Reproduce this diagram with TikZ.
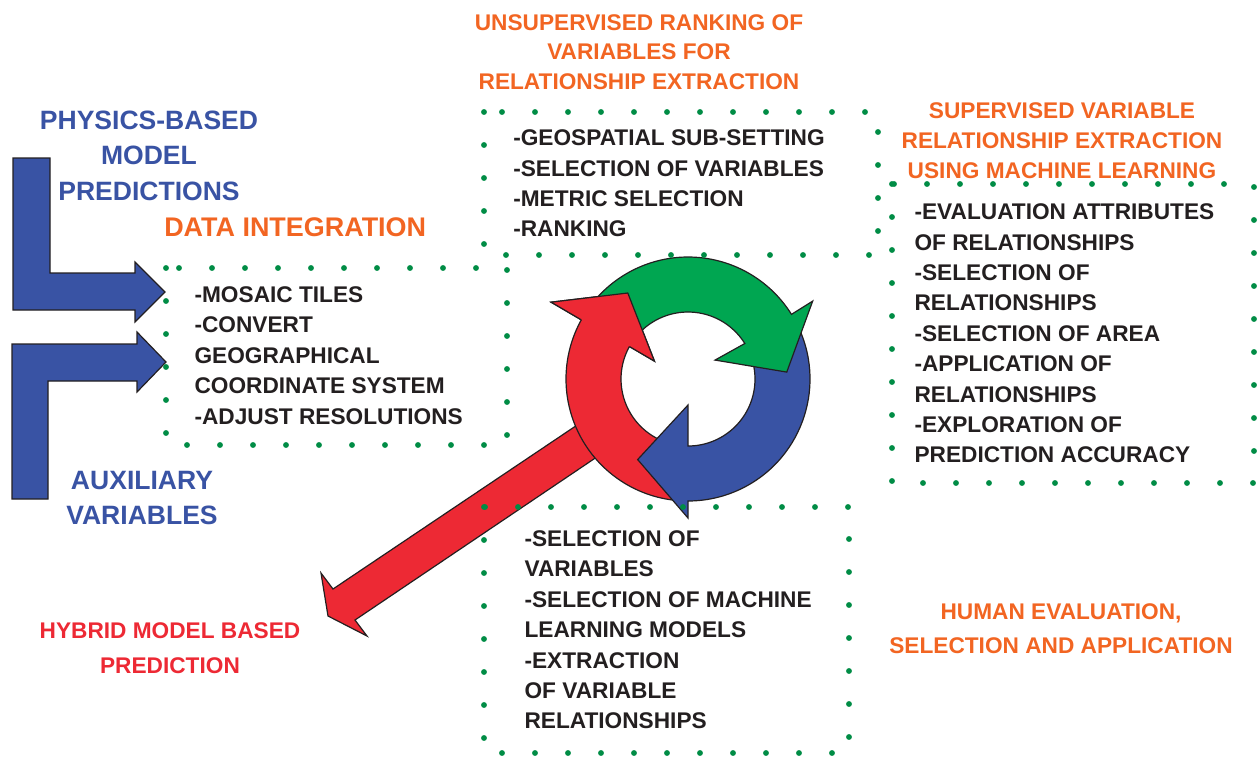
\documentclass[tikz,border=0pt]{standalone}
\usepackage{fontspec}
\setmainfont{Liberation Sans}
\usepackage{tikz}
\definecolor{dotgreen}{RGB}{0,140,69}
\definecolor{arrgreen}{RGB}{0,166,81}
\definecolor{arrred}{RGB}{237,41,52}
\definecolor{arrblue}{RGB}{57,83,164}
\definecolor{txtorange}{RGB}{242,101,34}
\definecolor{txtdark}{RGB}{35,31,32}

\begin{document}
\begin{tikzpicture}[x=0.75pt,y=0.75pt,yscale=-1,xscale=1,
  dotbox/.style={draw=dotgreen,line width=4.4pt,line cap=round,dash pattern={on 0pt off 24.75pt}},
  shapeline/.style={draw=txtdark,line width=0.9pt,line join=miter},
  bodytext/.style={anchor=north west,inner sep=0pt,align=left,text=txtdark,font=\fontsize{17}{22.8}\selectfont\bfseries},
  orangetitle/.style={anchor=north,inner sep=0pt,align=center,text=txtorange,font=\fontsize{17}{22.8}\selectfont\bfseries},
  bluetitle/.style={anchor=north,inner sep=0pt,align=center,text=arrblue,font=\fontsize{19.9}{26.5}\selectfont\bfseries}]
\useasboundingbox (0,0) rectangle (1257,758);

%Shape: Polygon - physics input arrow
\draw [shapeline,fill=arrblue] (13,158) -- (50,158) -- (50,273) -- (135,273) -- (135,262) -- (165,292) -- (135,322) -- (135,310) -- (13,310) -- cycle ;
%Shape: Polygon - auxiliary input arrow
\draw [shapeline,fill=arrblue] (12,344) -- (137,344) -- (137,332) -- (166,362) -- (137,392) -- (137,381) -- (48,381) -- (48,499) -- (12,499) -- cycle ;

%Shape: Polygon - hybrid prediction arrow
\draw [shapeline,fill=arrred] (604,407) -- (333,589) -- (321,573) -- (328,616) -- (367,636) -- (355,620) -- (625,438) -- cycle ;

\begin{scope}[shift={(688,379)}]
%Shape: Ring arrow red
\draw [shapeline,fill=arrred] (95:122) arc[start angle=95,end angle=209,radius=122] -- (209.3:157) -- (235:105) -- (208:38) -- (209:67) arc[start angle=209,end angle=95,radius=67] -- cycle ;
%Shape: Ring arrow blue
\draw [shapeline,fill=arrblue] (-30:122) arc[start angle=-30,end angle=90,radius=122] -- (90:139) -- (122:95) -- (90:26) -- (90:67) arc[start angle=90,end angle=-30,radius=67] -- cycle ;
%Shape: Ring arrow green
\draw [shapeline,fill=arrgreen] (215:122) arc[start angle=215,end angle=328,radius=122] -- (328:147) -- (356:99) -- (325:33) -- (328:67) arc[start angle=328,end angle=215,radius=67] -- cycle ;
%Shape: red head again on top of the green tail
\fill [arrred] (209:122) -- (209.3:157) -- (235:105) -- (208:38) -- (209:67) -- cycle ;
\draw [shapeline] (209:122) -- (209.3:157) -- (235:105) -- (208:38) -- (209:67) ;
\end{scope}

%Shape: Dotted boxes
\draw [dotbox] (166,268) rectangle (507,445) ;
\draw [dotbox] (484,112) rectangle (878,255) ;
\draw [dotbox] (892,184) rectangle (1254,483) ;
\draw [dotbox] (484,507) rectangle (849,753) ;

% Text Node
\draw (149,110.7) node [bluetitle] (physics) {PHYSICS-BASED\\MODEL\\PREDICTIONS};
% Text Node
\draw (142,470.7) node [bluetitle] (auxiliary) {AUXILIARY\\VARIABLES};
% Text Node
\draw (164,217.7) node [anchor=north west,inner sep=0pt,text=txtorange,font=\fontsize{20.2}{26}\selectfont\bfseries] (integration) {DATA INTEGRATION};
% Text Node
\draw (639,14.3) node [orangetitle,font=\fontsize{17}{22}\selectfont\bfseries] (unsupervised) {UNSUPERVISED RANKING OF\\VARIABLES FOR\\RELATIONSHIP EXTRACTION};
% Text Node
\draw (1062,101.9) node [orangetitle] (supervised) {SUPERVISED VARIABLE\\RELATIONSHIP EXTRACTION\\USING MACHINE LEARNING};
% Text Node
\draw (1061,603.6) node [orangetitle,font=\fontsize{17}{25.5}\selectfont\bfseries] (human) {HUMAN EVALUATION,\\SELECTION AND APPLICATION};
% Text Node
\draw (170,621.9) node [orangetitle,text=arrred,font=\fontsize{17}{26.8}\selectfont\bfseries] (hybrid) {HYBRID MODEL BASED\\PREDICTION};

% Text Node
\draw (194.3,286.3) node [bodytext] (integrationsteps) {-MOSAIC TILES\\-CONVERT\\GEOGRAPHICAL\\COORDINATE SYSTEM\\-ADJUST RESOLUTIONS};
% Text Node
\draw (513,129.6) node [bodytext] (rankingsteps) {-GEOSPATIAL SUB-SETTING\\-SELECTION OF VARIABLES\\-METRIC SELECTION\\-RANKING};
% Text Node
\draw (914.3,203.6) node [bodytext] (evaluationsteps) {-EVALUATION ATTRIBUTES\\OF RELATIONSHIPS\\-SELECTION OF\\RELATIONSHIPS\\-SELECTION OF AREA\\-APPLICATION OF\\RELATIONSHIPS\\-EXPLORATION OF\\PREDICTION ACCURACY};
% Text Node
\draw (524.3,530.3) node [bodytext] (learningsteps) {-SELECTION OF\\VARIABLES\\-SELECTION OF MACHINE\\LEARNING MODELS\\-EXTRACTION\\OF VARIABLE\\RELATIONSHIPS};

\end{tikzpicture}
\end{document}
